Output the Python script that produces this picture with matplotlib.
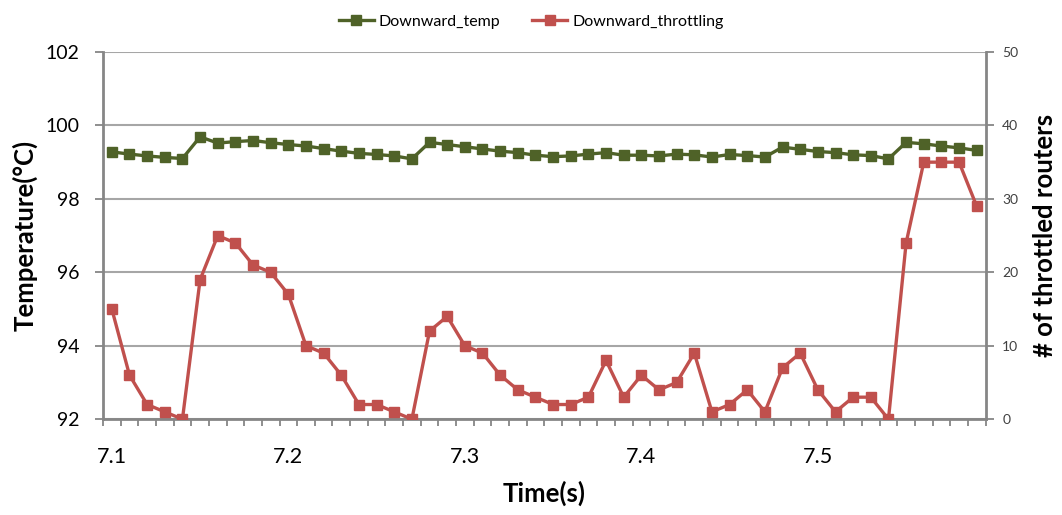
import numpy as np
import matplotlib
matplotlib.use("Agg")
from matplotlib import pyplot as plt

plt.rcParams['font.family'] = ['Lato', 'DejaVu Sans']

times = [7.10, 7.11, 7.12, 7.13, 7.14, 7.15, 7.16, 7.17, 7.18, 7.19,
         7.20, 7.21, 7.22, 7.23, 7.24, 7.25, 7.26, 7.27, 7.28, 7.29,
         7.30, 7.31, 7.32, 7.33, 7.34, 7.35, 7.36, 7.37, 7.38, 7.39,
         7.40, 7.41, 7.42, 7.43, 7.44, 7.45, 7.46, 7.47, 7.48, 7.49,
         7.50, 7.51, 7.52, 7.53, 7.54, 7.55, 7.56, 7.57, 7.58, 7.59]

temp = [99.28, 99.22, 99.17, 99.13, 99.10, 99.69, 99.52, 99.56, 99.59, 99.53,
        99.48, 99.44, 99.37, 99.30, 99.24, 99.21, 99.17, 99.09, 99.54, 99.48,
        99.42, 99.36, 99.30, 99.26, 99.19, 99.15, 99.17, 99.22, 99.26, 99.19,
        99.19, 99.17, 99.22, 99.20, 99.14, 99.21, 99.18, 99.14, 99.41, 99.35,
        99.29, 99.26, 99.20, 99.18, 99.09, 99.54, 99.50, 99.44, 99.39, 99.32]

throttling = [15, 6, 2, 1, 0, 19, 25, 24, 21, 20,
              17, 10, 9, 6, 2, 2, 1, 0, 12, 14,
              10, 9, 6, 4, 3, 2, 2, 3, 8, 3,
              6, 4, 5, 9, 1, 2, 4, 1, 7, 9,
              4, 1, 3, 3, 0, 24, 35, 35, 35, 29]

green = '#4F6228'
red = '#C0504D'
axis_gray = '#868686'
grid_gray = '#A6A6A6'

x = np.arange(len(times))

fig = plt.figure(figsize=(10.62, 5.15), dpi=100)
ax = fig.add_axes([0.097, 0.186, 0.831, 0.713])
ax2 = ax.twinx()

l1, = ax.plot(x, temp, color=green, lw=2.4, marker='s', ms=6.5,
              label='Downward_temp')
l2, = ax2.plot(x, throttling, color=red, lw=2.4, marker='s', ms=6.5,
               label='Downward_throttling')

ax.set_xlim(-0.5, len(times) - 0.5)
ax.set_ylim(92, 102)
ax.set_yticks(np.arange(92, 103, 2))
ax2.set_ylim(0, 50)
ax2.set_yticks(np.arange(0, 51, 10))

# label every 0.1 s, ticks sit between categories
lab_pos = [i for i, t in enumerate(times) if abs(t * 10 - round(t * 10)) < 1e-6]
ax.set_xticks(lab_pos)
ax.set_xticklabels([f'{times[i]:.1f}' for i in lab_pos])
ax.set_xticks(np.arange(-0.5, len(times), 1), minor=True)
ax.tick_params(axis='x', which='major', length=0, pad=20, labelsize=15.5)
ax.tick_params(axis='x', which='minor', length=5, width=1.3, color=axis_gray)
ax.tick_params(axis='y', length=6, width=1.3, color=axis_gray, labelsize=14, pad=11)
ax2.tick_params(axis='y', length=6, width=1.3, color=axis_gray, labelsize=10, pad=6,
                labelcolor='#404040')

ax.yaxis.grid(True, color=grid_gray, lw=1.5)
ax.set_axisbelow(True)
for a in (ax, ax2):
    for s in a.spines.values():
        s.set_color(axis_gray)
        s.set_linewidth(2)
    a.spines['top'].set_visible(False)
ax.spines['right'].set_visible(False)
ax2.spines['left'].set_visible(False)
ax2.spines['bottom'].set_visible(False)

ax.set_ylabel('Temperature(°C)', fontsize=18.5, fontweight='bold')
ax.yaxis.set_label_coords(-0.088, 0.5)
ax2.set_ylabel('# of throttled routers', fontsize=18.5, fontweight='bold', rotation=90)
ax2.yaxis.set_label_coords(1.067, 0.5)
ax.set_xlabel('Time(s)', fontsize=18.5, fontweight='bold')
ax.xaxis.set_label_coords(0.5, -0.202)
for lbl in (ax.yaxis.label, ax2.yaxis.label, ax.xaxis.label):
    lbl.set_verticalalignment('center')

fig.legend(handles=[l1, l2], loc='upper center', bbox_to_anchor=(0.5, 1.0),
           ncol=2, frameon=False, fontsize=11.5, handlelength=2.2,
           columnspacing=2.0, handletextpad=0.3)

fig.savefig('out.png', dpi=100)
